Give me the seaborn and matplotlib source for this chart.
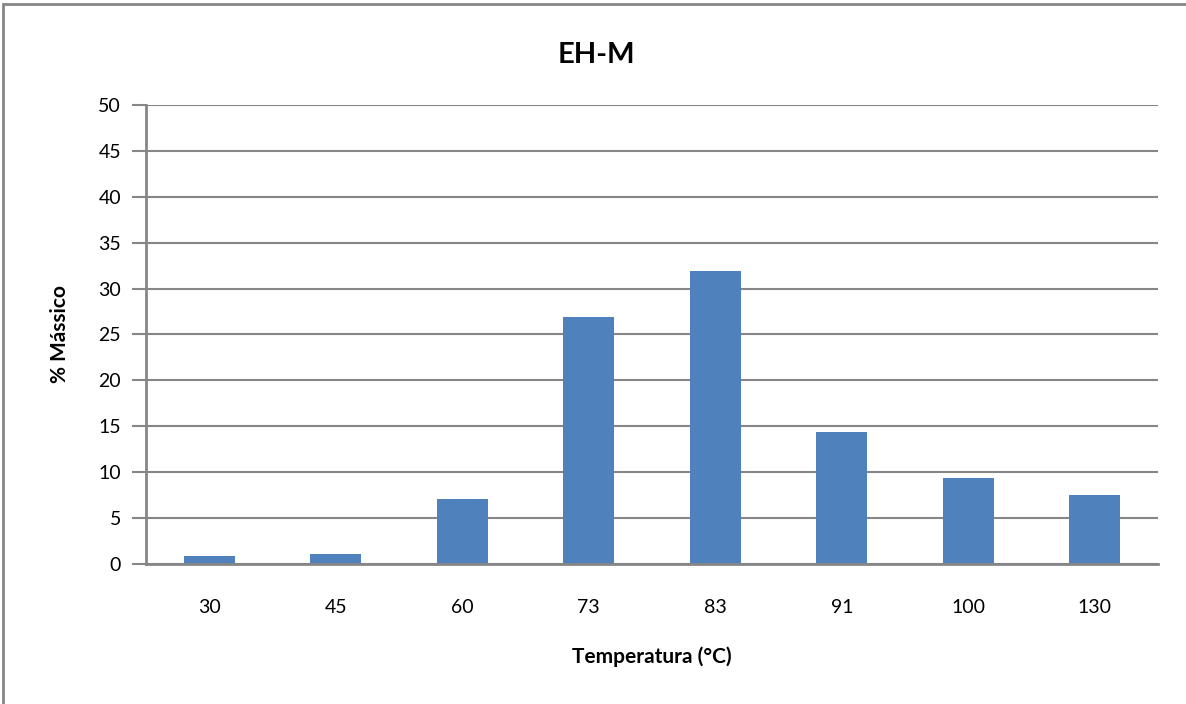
import matplotlib
matplotlib.use("Agg")
import matplotlib.pyplot as plt
import seaborn as sns
import pandas as pd
from matplotlib.patches import Rectangle

categories = ["30", "45", "60", "73", "83", "91", "100", "130"]
values = [0.9, 1.1, 7.1, 26.9, 31.9, 14.4, 9.4, 7.5]
yticks = [0, 5, 10, 15, 20, 25, 30, 35, 40, 45, 50]

sns.set_theme(style="white")
plt.rcParams['font.family'] = ['Lato', 'DejaVu Sans']
plt.rcParams['text.color'] = 'black'
plt.rcParams['axes.labelcolor'] = 'black'
plt.rcParams['xtick.color'] = 'black'
plt.rcParams['ytick.color'] = 'black'

df = pd.DataFrame({"Temperatura": categories, "Massico": values})

fig = plt.figure(figsize=(11.86, 7.04), dpi=100)
ax = fig.add_axes([0.1231, 0.1989, 0.8533, 0.6520])
sns.barplot(data=df, x="Temperatura", y="Massico", color="#4F81BD",
            saturation=1, width=0.40, ax=ax, order=categories, linewidth=0)

grid_c = "#868686"
ax.set_ylim(0, 50)
ax.set_yticks(yticks)
ax.set_yticklabels([str(t) for t in yticks], fontsize=14)
ax.tick_params(axis='x', labelsize=14, length=0, pad=25, labelcolor='black')
ax.tick_params(axis='y', length=10, width=1.5, color=grid_c, pad=8, direction='out',
               left=True, labelcolor='black')
ax.set_xlim(-0.5, len(categories) - 0.5)
ax.yaxis.grid(True, color=grid_c, linewidth=1.5)
ax.set_axisbelow(True)
for s in ["top", "right"]:
    ax.spines[s].set_visible(False)
for s in ["left", "bottom"]:
    ax.spines[s].set_color(grid_c)
    ax.spines[s].set_linewidth(2)

ax.set_xlabel("Temperatura (°C)", fontsize=15, fontweight="bold", labelpad=22, color='black')
ax.set_ylabel("% Mássico", fontsize=15, fontweight="bold", labelpad=20, color='black')
fig.text(596 / 1186, 1 - 55 / 704, "EH-M", fontsize=21, fontweight="bold",
         color='black', ha='center', va='center')

fig.patches.append(Rectangle((3 / 1186, -0.1), 1.2, 1 - 4 / 704 + 0.1,
                             transform=fig.transFigure, fill=False,
                             edgecolor=grid_c, linewidth=2))

fig.savefig("out.png", dpi=100)
